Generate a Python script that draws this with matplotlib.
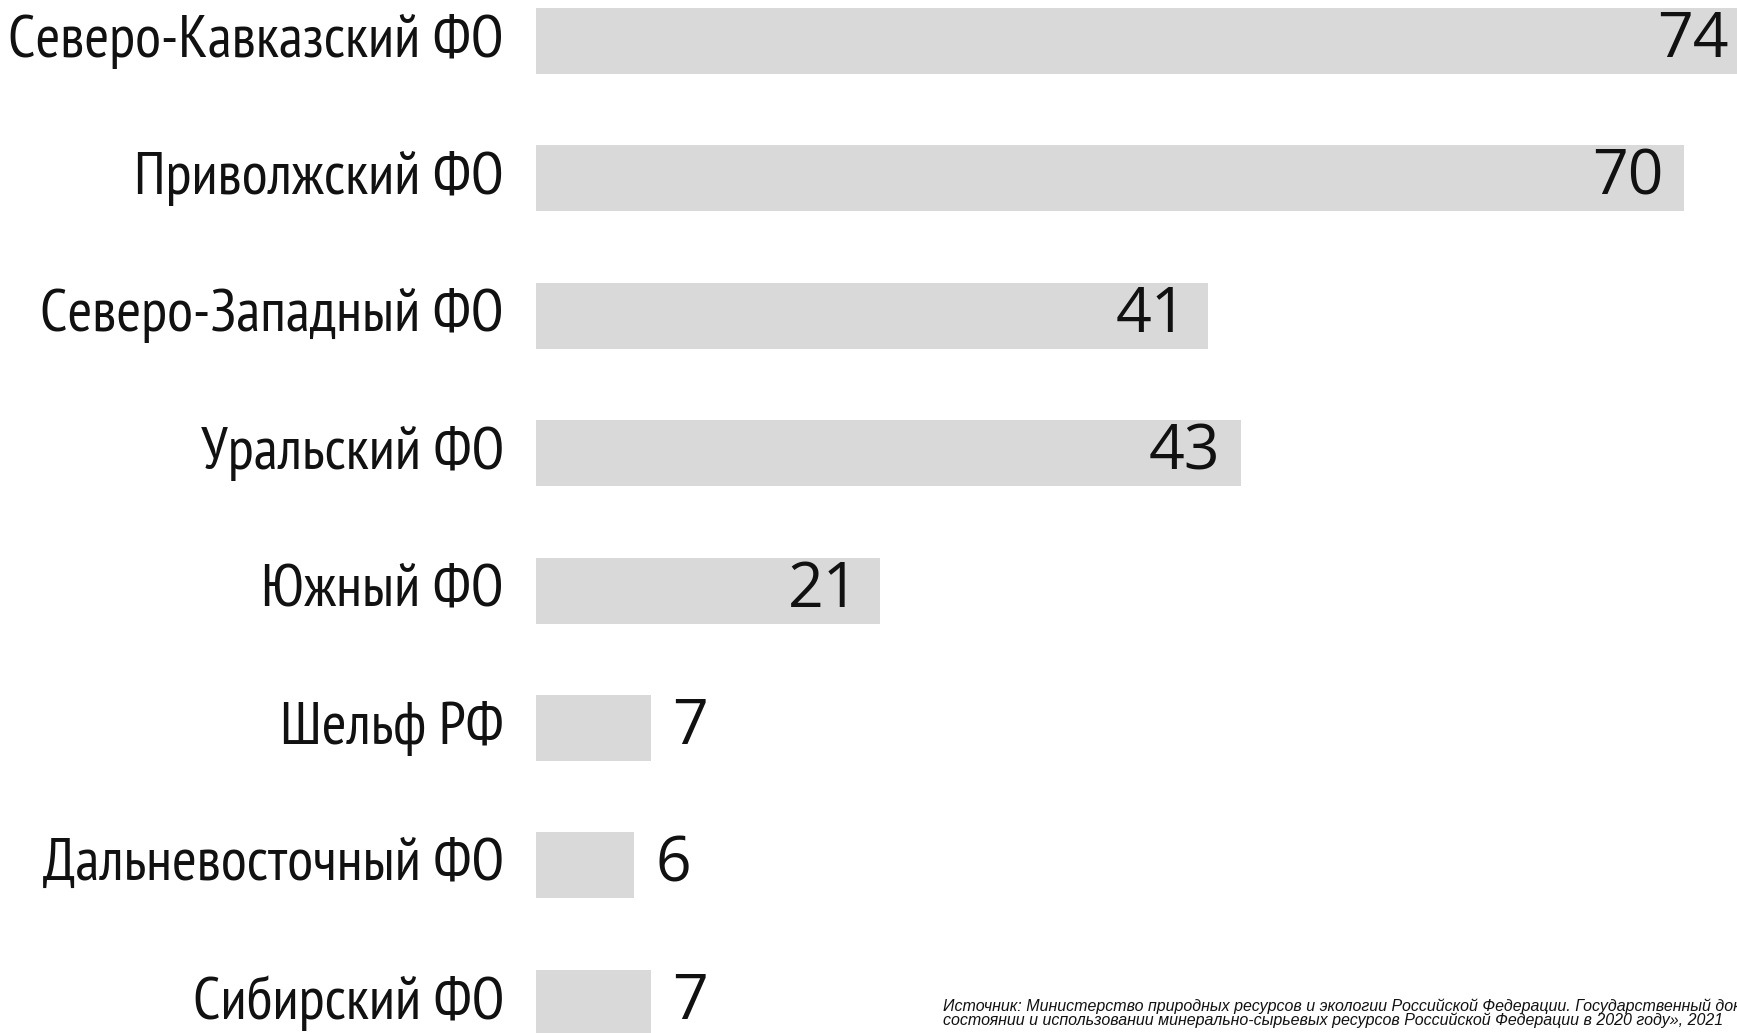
import matplotlib

matplotlib.use("Agg")
import matplotlib.pyplot as plt

# запасы по федеральным округам (значения с рисунка, сверху вниз)
regions = ["Северо-Кавказский ФО", "Приволжский ФО", "Северо-Западный ФО",
           "Уральский ФО", "Южный ФО", "Шельф РФ", "Дальневосточный ФО",
           "Сибирский ФО"]
values = [74, 70, 41, 43, 21, 7, 6, 7]

SOURCE = ["Источник: Министерство природных ресурсов и экологии Российской "
          "Федерации. Государственный доклад «О",
          "состоянии и использовании минерально-сырьевых ресурсов Российской "
          "Федерации в 2020 году», 2021"]

BAR = "#d9d9d9"
INK = "#111111"
LABEL_FONT = ["PT Sans Narrow", "DejaVu Sans"]
NUM_FONT = ["Open Sans", "DejaVu Sans"]

W, H = 1737, 1033
fig = plt.figure(figsize=(W / 100, H / 100), dpi=100)
ax = fig.add_axes([536 / W, 0, 1 - 536 / W, 1])

ys = list(range(len(regions)))
ax.barh(ys, values, height=0.48, color=BAR, edgecolor="none")
ax.set_xlim(0, (W - 536) / 16.4)
ax.set_ylim((H - 41) / 137.4, -41 / 137.4)
ax.axis("off")

for y, name, v in zip(ys, regions, values):
    ax.annotate(name, (0, y), xytext=(-23, 0), textcoords="offset points",
                ha="right", va="center", fontsize=43, color=INK,
                family=LABEL_FONT, annotation_clip=False)
    inside = v >= 15
    ax.annotate(str(v), (v, y), xytext=(-15 if inside else 15, 0),
                textcoords="offset points", ha="right" if inside else "left",
                va="center", fontsize=45, color=INK, family=NUM_FONT,
                annotation_clip=False)

for line, ypix in zip(SOURCE, (1011, 1025)):
    fig.text(943 / W, 1 - ypix / H, line, ha="left", va="baseline",
             fontsize=11.5, style="italic", color=INK,
             family=["Liberation Sans", "DejaVu Sans"])

fig.savefig("out.png", dpi=100)
